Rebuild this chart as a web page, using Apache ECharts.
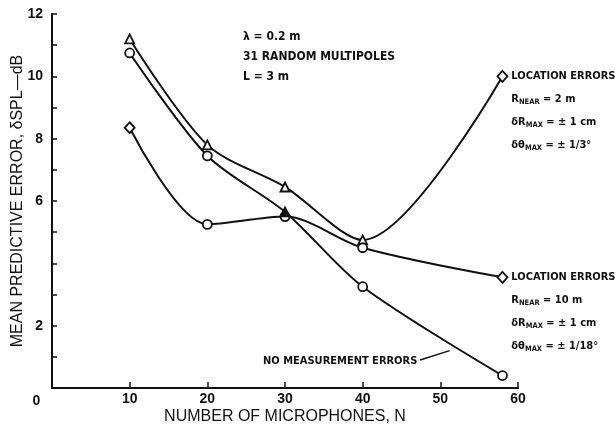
<!DOCTYPE html>
<html>
<head>
<meta charset="utf-8">
<script src="https://cdn.jsdelivr.net/npm/echarts@6/dist/echarts.min.js"></script>
<style>
  html, body { margin: 0; padding: 0; background: #fff; }
  #chart { width: 615px; height: 431px; }
</style>
</head>
<body>
<div id="chart"></div>
<script>
// Number of microphones N
const nMics = [10, 20, 30, 40, 58];
// Mean predictive error (dB) for each case
const locErr2m  = [11.2, 7.8, 6.45, 4.75, 10.0];
const locErr10m = [8.35, 5.25, 5.5, 4.5, 3.55];
const noMeasErr = [10.75, 7.45, 5.65, 3.25, 0.4];

const xTicks = [0, 10, 20, 30, 40, 50, 60];
const yTickLabels = [2, 6, 8, 10, 12];

// leader line for the "no measurement errors" note: [N, dB] at each end
const noteLeaderFrom = [47.4, 0.9];
const noteLeaderTo = [51.2, 1.2];

const INK = '#111';
const LETTER = '"DejaVu Sans Condensed", "Liberation Sans", sans-serif';
const PLAIN = '"Liberation Sans", "DejaVu Sans", sans-serif';

const noteRich = {
  t: { fontFamily: LETTER, fontWeight: 'bold', fontSize: 11, color: INK, lineHeight: 23 },
  s: { fontFamily: LETTER, fontWeight: 'bold', fontSize: 7.5, color: INK, lineHeight: 23, padding: [7, 0, 0, 0] }
};

function pairs(ys, symbols, lastLabel) {
  return nMics.map((n, i) => {
    const item = { value: [n, ys[i]], symbol: symbols[i] };
    if (symbols[i] === 'filled') {
      item.symbol = 'triangle';
      item.itemStyle = { color: INK };
    }
    if (symbols[i] === 'diamond') item.symbolSize = [10, 11];
    if (i === nMics.length - 1 && lastLabel) {
      item.label = {
        show: true, position: 'right', distance: 3,
        offset: [0, 34], align: 'left',
        formatter: lastLabel, rich: noteRich
      };
    }
    return item;
  });
}

const baseSeries = {
  type: 'line',
  smooth: 0.3,
  symbolSize: 9,
  showAllSymbol: true,
  lineStyle: { color: INK, width: 2 },
  itemStyle: { color: '#fff', borderColor: INK, borderWidth: 1.8 },
  z: 3
};

const chart = echarts.init(document.getElementById('chart'), null, { renderer: 'canvas' });

chart.setOption({
  backgroundColor: '#fff',
  animation: false,
  grid: { left: 52, right: 97, top: 14, bottom: 43, containLabel: false, outerBoundsMode: 'none' },
  xAxis: {
    type: 'value', min: 0, max: 60, interval: 10,
    name: 'NUMBER OF MICROPHONES, N',
    nameLocation: 'middle', nameGap: 21, nameMoveOverlap: false,
    nameTextStyle: { fontFamily: PLAIN, fontSize: 16, color: INK },
    axisLine: { lineStyle: { color: INK, width: 2 } },
    axisTick: { inside: true, length: 6, lineStyle: { color: INK, width: 1.5 } },
    splitLine: { show: false },
    axisLabel: {
      margin: 4, color: INK, fontFamily: PLAIN, fontWeight: 'bold', fontSize: 14,
      formatter: v => (xTicks.indexOf(v) < 0 ? '' : (v === 0 ? '{z|0}' : String(v))),
      rich: { z: { fontFamily: PLAIN, fontWeight: 'bold', fontSize: 14, color: INK, padding: [2, 31, 0, 0] } }
    }
  },
  yAxis: {
    type: 'value', min: 0, max: 12, interval: 1,
    name: 'MEAN PREDICTIVE ERROR, \u03B4SPL\u2014dB',
    nameLocation: 'middle', nameGap: 26, nameRotate: 90, nameMoveOverlap: false,
    nameTextStyle: { fontFamily: PLAIN, fontSize: 16, color: INK },
    axisLine: { show: true, lineStyle: { color: INK, width: 2 } },
    axisTick: { show: true, inside: true, length: 5, lineStyle: { color: INK, width: 1.5 } },
    splitLine: { show: false },
    axisLabel: {
      margin: 9, color: INK, fontFamily: PLAIN, fontWeight: 'bold', fontSize: 14,
      formatter: v => (yTickLabels.indexOf(v) >= 0 ? String(v) : '')
    }
  },
  graphic: [
    {
      type: 'text', left: 243, top: 27,
      style: {
        text: '\u03BB = 0.2 m\n31 RANDOM MULTIPOLES\nL = 3 m',
        font: 'bold 12px ' + LETTER, fill: INK, lineHeight: 20
      }
    }
  ],
  series: [
    Object.assign({}, baseSeries, {
      name: 'Location errors, R_NEAR = 2 m',
      data: pairs(locErr2m, ['triangle', 'triangle', 'triangle', 'triangle', 'diamond'],
        '{t|LOCATION ERRORS}\n{t|R}{s|NEAR}{t| = 2 m}\n{t|\u03B4R}{s|MAX}{t| = \u00B1 1 cm}\n{t|\u03B4\u03B8}{s|MAX}{t| = \u00B1 1/3\u00B0}')
    }),
    Object.assign({}, baseSeries, {
      name: 'Location errors, R_NEAR = 10 m',
      data: pairs(locErr10m, ['diamond', 'circle', 'circle', 'circle', 'diamond'],
        '{t|LOCATION ERRORS}\n{t|R}{s|NEAR}{t| = 10 m}\n{t|\u03B4R}{s|MAX}{t| = \u00B1 1 cm}\n{t|\u03B4\u03B8}{s|MAX}{t| = \u00B1 1/18\u00B0}')
    }),
    Object.assign({}, baseSeries, {
      name: 'No measurement errors',
      data: pairs(noMeasErr, ['circle', 'circle', 'filled', 'circle', 'circle'], null),
      markLine: {
        silent: true, symbol: 'none',
        lineStyle: { color: INK, width: 1.5, type: 'solid' },
        label: {
          show: true, position: 'start', distance: 3,
          formatter: 'NO MEASUREMENT ERRORS',
          fontFamily: LETTER, fontWeight: 'bold', fontSize: 11, color: INK
        },
        data: [[{ coord: noteLeaderFrom }, { coord: noteLeaderTo }]]
      }
    })
  ]
});
</script>
</body>
</html>
